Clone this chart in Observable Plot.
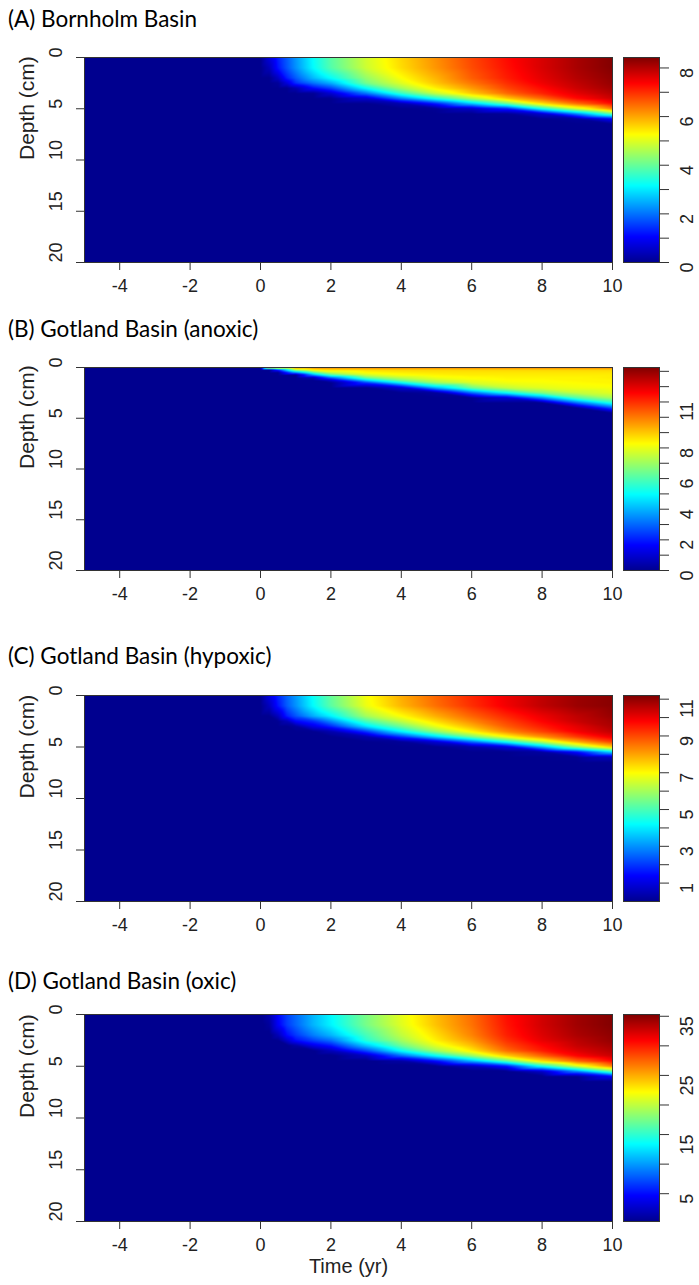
<!DOCTYPE html>
<html><head><meta charset="utf-8">
<script src="https://cdn.jsdelivr.net/npm/d3@7"></script>
<script src="https://cdn.jsdelivr.net/npm/@observablehq/plot@0.6"></script>
<style>
html,body{margin:0;padding:0;background:#fff;}
body{width:699px;height:1285px;position:relative;overflow:hidden;font-family:"Liberation Sans",Arial,sans-serif;}
.title{position:absolute;left:8px;font-family:Lato,"Open Sans",sans-serif;font-size:22.5px;line-height:22px;color:#000;white-space:nowrap;}
.abs{position:absolute;}
</style></head><body>
<script>
// ---- Data ----
const panelTitles = ["(A) Bornholm Basin", "(B) Gotland Basin (anoxic)", "(C) Gotland Basin (hypoxic)", "(D) Gotland Basin (oxic)"];
const timeTicks = [-4, -2, 0, 2, 4, 6, 8, 10];
const depthTicks = [0, 5, 10, 15, 20];

// Grid for panels A, C, D: rows = depths (cm), columns = times (yr)
const timesACD = [-5, 0, 0.25, 0.5, 0.75, 1, 1.5, 2, 3, 4, 5, 6, 7, 8, 9, 10];
const depthsACD = [0, 1, 2, 2.5, 3, 3.5, 4, 4.5, 5, 5.5, 6, 6.5, 20];

const valuesA = [
  [0, 0, 0.7, 1.3, 1.8, 2.3, 3.2, 3.9, 4.9, 5.6, 6.2, 6.8, 7.3, 7.7, 8.1, 8.4],
  [0, 0, 0.4, 1.2, 1.75, 2.25, 3.15, 3.85, 4.85, 5.55, 6.15, 6.75, 7.25, 7.7, 8.1, 8.4],
  [0, 0, 0, 0.5, 1.3, 1.8, 2.6, 3.2, 4.4, 5.25, 5.9, 6.6, 7.15, 7.6, 8.0, 8.3],
  [0, 0, 0, 0.1, 0.7, 1.4, 2.0, 2.5, 4.1, 5.0, 5.75, 6.4, 7.0, 7.5, 7.9, 8.25],
  [0, 0, 0, 0, 0, 0.3, 1.1, 1.6, 3.2, 4.5, 5.4, 6.1, 6.8, 7.3, 7.8, 8.15],
  [0, 0, 0, 0, 0, 0, 0.05, 0.6, 2.0, 3.6, 4.8, 5.7, 6.5, 7.1, 7.6, 8.0],
  [0, 0, 0, 0, 0, 0, 0, 0, 0.6, 2.1, 3.4, 4.6, 5.7, 6.5, 7.3, 7.8],
  [0, 0, 0, 0, 0, 0, 0, 0, 0, 0.3, 1.3, 2.7, 4.0, 5.5, 6.5, 7.3],
  [0, 0, 0, 0, 0, 0, 0, 0, 0, 0, 0.05, 0.5, 1.3, 3.3, 4.9, 6.3],
  [0, 0, 0, 0, 0, 0, 0, 0, 0, 0, 0, 0, 0.05, 0.6, 2.2, 4.0],
  [0, 0, 0, 0, 0, 0, 0, 0, 0, 0, 0, 0, 0, 0, 0.1, 1.05],
  [0, 0, 0, 0, 0, 0, 0, 0, 0, 0, 0, 0, 0, 0, 0, 0],
  [0, 0, 0, 0, 0, 0, 0, 0, 0, 0, 0, 0, 0, 0, 0, 0]
];

const valuesC = [
  [0, 0, 1.0, 1.8, 2.5, 3.1, 4.3, 5.3, 6.9, 7.9, 8.7, 9.4, 10.0, 10.5, 10.9, 11.1],
  [0, 0, 0.6, 1.6, 2.4, 3.0, 4.2, 5.2, 6.8, 7.8, 8.6, 9.3, 9.95, 10.5, 10.9, 11.1],
  [0, 0, 0, 0.6, 1.7, 2.3, 3.3, 4.1, 6.0, 7.0, 7.9, 8.7, 9.4, 10.0, 10.5, 10.95],
  [0, 0, 0, 0.05, 0.5, 1.4, 1.9, 2.9, 5.0, 6.3, 7.4, 8.3, 9.1, 9.8, 10.4, 10.8],
  [0, 0, 0, 0, 0, 0.2, 1.1, 1.8, 3.9, 5.4, 6.8, 7.8, 8.8, 9.5, 10.1, 10.7],
  [0, 0, 0, 0, 0, 0, 0.02, 0.4, 2.0, 4.1, 5.8, 7.1, 8.3, 9.1, 9.9, 10.5],
  [0, 0, 0, 0, 0, 0, 0, 0, 0.4, 2.0, 3.8, 5.5, 7.0, 8.2, 9.2, 10.0],
  [0, 0, 0, 0, 0, 0, 0, 0, 0, 0.1, 0.9, 2.6, 4.4, 6.2, 7.9, 9.1],
  [0, 0, 0, 0, 0, 0, 0, 0, 0, 0, 0, 0.3, 1.0, 3.3, 5.7, 7.5],
  [0, 0, 0, 0, 0, 0, 0, 0, 0, 0, 0, 0, 0, 0.2, 1.5, 3.7],
  [0, 0, 0, 0, 0, 0, 0, 0, 0, 0, 0, 0, 0, 0, 0.05, 0.6],
  [0, 0, 0, 0, 0, 0, 0, 0, 0, 0, 0, 0, 0, 0, 0, 0],
  [0, 0, 0, 0, 0, 0, 0, 0, 0, 0, 0, 0, 0, 0, 0, 0]
];

const valuesD = [
  [0, 0, 1.5, 4.8, 6.8, 8.3, 11.0, 13.3, 17.6, 21.3, 24.5, 27.2, 30.5, 32.5, 34.2, 35.2],
  [0, 0, 0.84, 4.4, 6.65, 8.1, 10.9, 13.1, 17.5, 21.1, 24.3, 27.0, 30.3, 32.5, 34.2, 35.2],
  [0, 0, 0, 1.85, 4.9, 6.5, 9.0, 10.9, 15.8, 20.0, 23.3, 26.4, 29.9, 32.1, 33.8, 34.8],
  [0, 0, 0, 0.37, 2.7, 5.0, 6.9, 8.5, 14.8, 19.0, 22.7, 25.6, 29.3, 31.7, 33.3, 34.6],
  [0, 0, 0, 0, 0, 1.1, 3.8, 5.4, 11.5, 17.1, 21.3, 24.4, 28.4, 30.8, 32.9, 34.1],
  [0, 0, 0, 0, 0, 0, 0.17, 2.0, 7.2, 13.7, 19.0, 22.8, 27.2, 30.0, 32.1, 33.5],
  [0, 0, 0, 0, 0, 0, 0, 0, 2.2, 8.0, 13.4, 18.4, 23.8, 27.4, 30.8, 32.7],
  [0, 0, 0, 0, 0, 0, 0, 0, 0, 1.1, 5.1, 10.8, 16.7, 23.2, 27.4, 30.6],
  [0, 0, 0, 0, 0, 0, 0, 0, 0, 0, 0.2, 2.0, 5.4, 13.9, 20.7, 26.4],
  [0, 0, 0, 0, 0, 0, 0, 0, 0, 0, 0, 0, 0.2, 2.5, 9.3, 16.8],
  [0, 0, 0, 0, 0, 0, 0, 0, 0, 0, 0, 0, 0, 0, 0.4, 4.4],
  [0, 0, 0, 0, 0, 0, 0, 0, 0, 0, 0, 0, 0, 0, 0, 0],
  [0, 0, 0, 0, 0, 0, 0, 0, 0, 0, 0, 0, 0, 0, 0, 0]
];

// Grid for panel B (thin wedge near the surface)
const timesB = [-5, 0, 0.25, 0.5, 1, 1.5, 2, 3, 4, 5, 6, 7, 8, 9, 10];
const depthsB = [0, 0.25, 0.5, 0.75, 1, 1.25, 1.5, 2, 2.5, 3, 3.5, 4, 4.5, 20];
const valuesB = [
  [0, 0, 9.0, 9.8, 10, 10, 10, 10, 10, 10, 10, 10, 10, 10, 10],
  [0, 0, 0, 2.0, 7.0, 8.3, 8.6, 8.7, 8.8, 8.8, 8.8, 8.8, 8.8, 8.8, 8.8],
  [0, 0, 0, 0, 3.5, 6.0, 7.5, 8.3, 8.5, 8.6, 8.6, 8.6, 8.6, 8.6, 8.6],
  [0, 0, 0, 0, 0, 3.5, 5.8, 7.6, 8.2, 8.4, 8.5, 8.5, 8.5, 8.5, 8.5],
  [0, 0, 0, 0, 0, 0.6, 3.0, 6.4, 7.5, 8.1, 8.3, 8.4, 8.4, 8.4, 8.5],
  [0, 0, 0, 0, 0, 0, 1.0, 4.5, 6.6, 7.6, 8.1, 8.3, 8.3, 8.4, 8.4],
  [0, 0, 0, 0, 0, 0, 0, 2.4, 5.0, 7.0, 7.8, 8.1, 8.2, 8.3, 8.4],
  [0, 0, 0, 0, 0, 0, 0, 0, 1.0, 4.0, 6.4, 7.5, 7.9, 8.1, 8.2],
  [0, 0, 0, 0, 0, 0, 0, 0, 0, 0.2, 3.0, 5.0, 6.6, 7.5, 7.9],
  [0, 0, 0, 0, 0, 0, 0, 0, 0, 0, 0, 1.0, 3.4, 6.0, 7.1],
  [0, 0, 0, 0, 0, 0, 0, 0, 0, 0, 0, 0, 0, 3.0, 5.3],
  [0, 0, 0, 0, 0, 0, 0, 0, 0, 0, 0, 0, 0, 0, 2.6],
  [0, 0, 0, 0, 0, 0, 0, 0, 0, 0, 0, 0, 0, 0, 0],
  [0, 0, 0, 0, 0, 0, 0, 0, 0, 0, 0, 0, 0, 0, 0]
];

// Colour-bar ranges, ticks and labels
const colorRangeA = [0, 8.43], colorTicksA = [0, 1, 2, 3, 4, 5, 6, 7, 8], colorLabelsA = [0, 2, 4, 6, 8];
const colorRangeB = [0, 13.25], colorTicksB = [0, 1, 2, 3, 4, 5, 6, 7, 8, 9, 10, 11, 12, 13], colorLabelsB = [0, 2, 4, 6, 8, 11];
const colorRangeC = [0, 11.2], colorTicksC = [1, 2, 3, 4, 5, 6, 7, 8, 9, 10, 11], colorLabelsC = [1, 3, 5, 7, 9, 11];
const colorRangeD = [0.3, 35.3], colorTicksD = [5, 10, 15, 20, 25, 30, 35], colorLabelsD = [5, 15, 25, 35];

// jet-like palette
const jetColors = ["#00008F", "#0000FF", "#00FFFF", "#FFFF00", "#FF0000", "#800000"];
const jetStops = [0, 0.125, 0.375, 0.625, 0.875, 1];
const jetScale = d3.scaleLinear().domain(jetStops).range(jetColors).interpolate(d3.interpolateRgb).clamp(true);
const jet = (t) => jetScale(t);

function gridPoints(times, depths, values) {
  const pts = [];
  depths.forEach((d, i) => times.forEach((t, j) => pts.push({t, d, v: values[i][j]})));
  return pts;
}

const panels = [
  {title: panelTitles[0], titleTop: 8, top: 57, h: 205, pts: gridPoints(timesACD, depthsACD, valuesA), range: colorRangeA, ticks: colorTicksA, labels: colorLabelsA},
  {title: panelTitles[1], titleTop: 318, top: 367, h: 203, pts: gridPoints(timesB, depthsB, valuesB), range: colorRangeB, ticks: colorTicksB, labels: colorLabelsB},
  {title: panelTitles[2], titleTop: 645, top: 695, h: 206, pts: gridPoints(timesACD, depthsACD, valuesC), range: colorRangeC, ticks: colorTicksC, labels: colorLabelsC},
  {title: panelTitles[3], titleTop: 970, top: 1014, h: 207, pts: gridPoints(timesACD, depthsACD, valuesD), range: colorRangeD, ticks: colorTicksD, labels: colorLabelsD, xlabel: "Time (yr)"}
];

const MT = 10;
const fontStyle = {fontFamily: "'Liberation Sans', Arial, sans-serif", fontSize: "18px", color: "#000", background: "transparent", overflow: "visible"};

panels.forEach((p) => {
  const title = document.createElement("div");
  title.className = "title";
  title.style.top = p.titleTop + "px";
  title.textContent = p.title;
  document.body.appendChild(title);

  const MB = p.xlabel ? 64 : 42;
  const color = {type: "linear", domain: p.range, interpolate: jet, clamp: true};

  const main = Plot.plot({
    width: 620, height: p.h + MT + MB,
    marginLeft: 84, marginRight: 8, marginTop: MT, marginBottom: MB,
    x: {domain: [-5, 10], axis: null},
    y: {domain: [0, 20], reverse: true, axis: null},
    color,
    style: fontStyle,
    marks: [
      Plot.raster(p.pts, {x: "t", y: "d", fill: "v", interpolate: "barycentric", pixelSize: 1}),
      Plot.frame({stroke: "#333", strokeWidth: 1}),
      Plot.axisX(timeTicks, {anchor: "bottom", tickSize: 8, tickFormat: () => "", label: null, stroke: "#333"}),
      Plot.text(timeTicks, {x: (d) => d, frameAnchor: "bottom", dy: 29, text: (d) => String(d), fontSize: 18, fill: "#222"}),
      Plot.axisY(depthTicks, {anchor: "left", tickSize: 8, tickFormat: () => "", label: null, stroke: "#333"}),
      Plot.text(depthTicks, {y: (d) => d, frameAnchor: "left", dx: -28, rotate: -90, text: (d) => String(d), fontSize: 18, fill: "#222"}),
      Plot.text(["Depth (cm)"], {frameAnchor: "left", dx: -57, rotate: -90, text: (d) => d, fontSize: 21, fill: "#222"}),
      ...(p.xlabel ? [Plot.text([p.xlabel], {frameAnchor: "bottom", dy: 51, text: (d) => d, fontSize: 20, fill: "#222"})] : [])
    ]
  });
  main.classList.add("abs");
  main.style.left = "0px";
  main.style.top = (p.top - MT) + "px";
  document.body.appendChild(main);

  const bar = Plot.plot({
    width: 84, height: p.h + MT + MB,
    marginLeft: 8, marginRight: 40, marginTop: MT, marginBottom: MB,
    x: {domain: [0, 1], axis: null},
    y: {domain: p.range, axis: null},
    color,
    style: fontStyle,
    marks: [
      Plot.raster({fill: (x, y) => y, x1: 0, x2: 1, y1: p.range[0], y2: p.range[1], pixelSize: 1}),
      Plot.frame({stroke: "#333", strokeWidth: 1}),
      Plot.axisY(p.ticks, {anchor: "right", tickSize: 9, tickFormat: () => "", label: null, stroke: "#333"}),
      Plot.text(p.labels, {y: (d) => d, frameAnchor: "right", dx: 28, rotate: -90, text: (d) => String(d), fontSize: 18, fill: "#222"})
    ]
  });
  bar.classList.add("abs");
  bar.style.left = "615px";
  bar.style.top = (p.top - MT) + "px";
  document.body.appendChild(bar);
});
</script>
</body></html>
